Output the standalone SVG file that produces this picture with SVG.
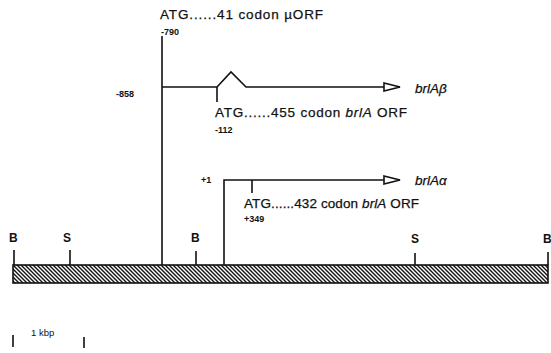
<svg xmlns="http://www.w3.org/2000/svg" width="551" height="353" viewBox="0 0 551 353">
<style>
.t{font-family:"Liberation Sans",Arial,sans-serif;font-size:13.5px;fill:#111;stroke:#111;stroke-width:0.25}
.n{font-family:"Liberation Sans",Arial,sans-serif;font-size:9px;font-weight:bold;fill:#111}
.r{font-family:"Liberation Sans",Arial,sans-serif;font-size:12px;font-weight:bold;fill:#111}
.i{font-style:italic}
.ln{stroke:#111;stroke-width:1.6;fill:none}
</style>
<defs>
<pattern id="hatch" patternUnits="userSpaceOnUse" width="4" height="4">
<rect width="4" height="4" fill="#fff"/>
<path d="M-1,-1 L5,5 M-1,3 L1,5 M3,-1 L5,1" stroke="#111" stroke-width="1.4"/>
</pattern>
<marker id="arr" markerWidth="18" markerHeight="10" refX="17" refY="5" orient="auto" markerUnits="userSpaceOnUse">
<path d="M1,1 L17,5 L1,9 Z" fill="#fff" stroke="#111" stroke-width="1.6"/>
</marker>
</defs>

<g id="connectors">
<path class="ln" d="M162,36 V265"/>
<path class="ln" d="M162,87 H217 L231,72 L246,87 H400" marker-end="url(#arr)"/>
<path class="ln" d="M217,87 V102"/>
<path class="ln" d="M224,265 V180 H400" marker-end="url(#arr)"/>
<path class="ln" d="M252,180 V193"/>
</g>

<g id="uorf">
<text class="t" x="160" y="19" textLength="163" lengthAdjust="spacing">ATG......41 codon µORF</text>
<text class="n" x="161" y="35">-790</text>
</g>

<g id="brlAbeta">
<text class="n" x="116" y="97">-858</text>
<text class="t" x="215" y="117" textLength="192" lengthAdjust="spacing">ATG......455 codon <tspan class="i">brlA</tspan> ORF</text>
<text class="n" x="215" y="133">-112</text>
<text class="t i" x="415" y="93">brlAβ</text>
</g>

<g id="brlAalpha">
<text class="n" x="201" y="183">+1</text>
<text class="t" x="244" y="208" textLength="175" lengthAdjust="spacing">ATG......432 codon <tspan class="i">brlA</tspan> ORF</text>
<text class="n" x="244" y="222">+349</text>
<text class="t i" x="415" y="185">brlAα</text>
</g>

<g id="map">
<rect x="13" y="265" width="535" height="18" fill="url(#hatch)" stroke="#111" stroke-width="1.6"/>
<path class="ln" d="M14,250 V265 M70,250 V265 M196,251 V265 M415,253 V265 M548,252 V265"/>
<text class="r" x="9" y="242">B</text>
<text class="r" x="63" y="242">S</text>
<text class="r" x="191" y="242">B</text>
<text class="r" x="411" y="243">S</text>
<text class="r" x="543" y="243">B</text>
</g>

<g id="scale">
<path class="ln" d="M13,335 V347 M84,337 V348"/>
<text class="n" x="31" y="336" style="font-weight:normal;font-size:9.5px">1 kbp</text>
</g>
</svg>
